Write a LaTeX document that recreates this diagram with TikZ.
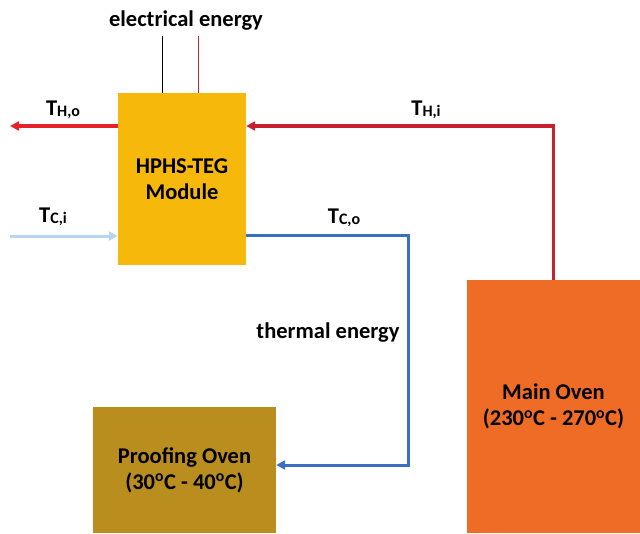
\documentclass[tikz,border=0pt]{standalone}
\usepackage{fontspec}
\setmainfont{Carlito}
\usetikzlibrary{arrows.meta}
\definecolor{tegC}{HTML}{F7B80C}
\definecolor{mainC}{HTML}{EE6C26}
\definecolor{proofC}{HTML}{B98E1F}
\definecolor{hotC}{HTML}{C8202E}
\definecolor{hotoutC}{HTML}{E62129}
\definecolor{coldC}{HTML}{3B6FC3}
\definecolor{coldinC}{HTML}{B7D5EE}
\newcommand{\tlab}[2]{T\raisebox{-1pt}{\fontsize{16}{16}\selectfont #1,#2}}
\begin{document}
\begin{tikzpicture}[x=1pt,y=-1pt,font=\fontsize{22.5}{26}\selectfont\bfseries,
  >={Triangle[length=9pt,width=9pt]}]
  \tikzset{box/.style={draw=none,align=center,inner sep=0pt},
    hot/.style={hotC,line width=3.5pt},
    hotout/.style={hotoutC,line width=3.5pt},
    cold/.style={coldC,line width=3pt},
    coldin/.style={coldinC,line width=3pt}}
  \useasboundingbox (0,0) rectangle (640,533);
  % blocks
  \node[box,fill=tegC,minimum width=128pt,minimum height=172pt] (teg) at (182,179) {HPHS-TEG\\Module};
  \node[box,fill=mainC,minimum width=173pt,minimum height=253pt] (main) at (553.5,406.5) {Main Oven\\(230\textsuperscript{o}C - 270\textsuperscript{o}C)};
  \node[box,fill=proofC,minimum width=183pt,minimum height=126pt] (proof) at (184.5,470) {Proofing Oven\\(30\textsuperscript{o}C - 40\textsuperscript{o}C)};
  % free ends
  \coordinate (tho) at (10,126);
  \coordinate (tci) at (10,236);
  \coordinate (bend) at (408,235);
  \coordinate (wa) at (162,36);
  \coordinate (wb) at (198,36);
  % hot side
  \draw[hot,->] (main.north) |- ([yshift=53pt]teg.east);
  \draw[hotout,->] ([yshift=53pt]teg.west) -- (tho);
  % cold side
  \draw[coldin,->] (tci) -- ([yshift=-57pt]teg.west);
  \draw[cold,->] ([yshift=-56pt]teg.east) -- (bend) |- ([yshift=5pt]proof.east);
  % electrical leads
  \draw[black,line width=1pt] (wa) -- (wa |- teg.north);
  \draw[hotC,line width=1pt] (wb) -- (wb |- teg.north);
  % labels
  \node (elec) at (186,21) {electrical energy};
  \node (therm) at (328,333) {thermal energy};
  \node (lho) at (63,110) {\tlab{H}{o}};
  \node (lhi) at (426,110) {\tlab{H}{i}};
  \node (lci) at (53,217) {\tlab{C}{i}};
  \node (lco) at (344,218) {\tlab{C}{o}};
\end{tikzpicture}
\end{document}
